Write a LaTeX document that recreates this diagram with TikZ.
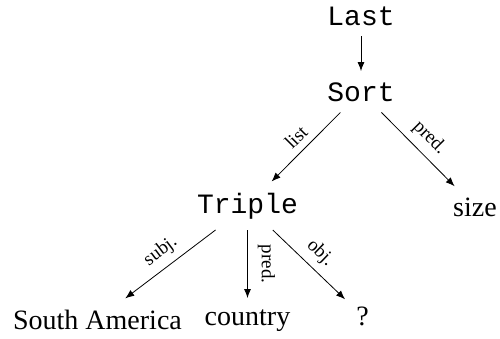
\documentclass[tikz,border=0pt]{standalone}
\usepackage{fontspec}
\setmainfont{Liberation Serif}
\setmonofont{Liberation Mono}
\usetikzlibrary{arrows.meta}

\tikzset{
  op/.style={font=\fontsize{28}{30}\selectfont\ttfamily, inner sep=11pt, anchor=base},
  leaf/.style={font=\fontsize{28}{30}\selectfont, inner sep=11pt, anchor=base},
  lbl/.style={font=\fontsize{19}{21}\selectfont, inner sep=7pt},
  edge/.style={-{Latex[length=9pt,width=7pt]}, line width=0.8pt},
}

\begin{document}
\begin{tikzpicture}[x=1pt, y=-1pt]
  \useasboundingbox (0,0) rectangle (500,338);

  % operators
  \node[op] (last)   at (361,25)    {Last};
  \node[op] (sort)   at (361,101)   {Sort};
  \node[op] (triple) at (247.5,213) {Triple};

  % leaves
  \node[leaf] (size)    at (475,216)   {size};
  \node[leaf] (south)   at (97.5,329)  {South America};
  \node[leaf] (country) at (247.5,325) {country};
  \node[leaf] (query)   at (362.5,325) {?};

  % edges
  \draw[edge] (last) -- (sort);
  \draw[edge] (sort) -- node[lbl, sloped, above] {list} (triple);
  \draw[edge] (sort) -- node[lbl, sloped, above] {pred.} (size);
  \draw[edge] (triple) -- node[lbl, sloped, above] {subj.} (south);
  \draw[edge] (triple) -- node[lbl, midway, rotate=-90, anchor=south, inner sep=10pt] {pred.} (country);
  \draw[edge] (triple) -- node[lbl, sloped, above] {obj.} (query);
\end{tikzpicture}
\end{document}
